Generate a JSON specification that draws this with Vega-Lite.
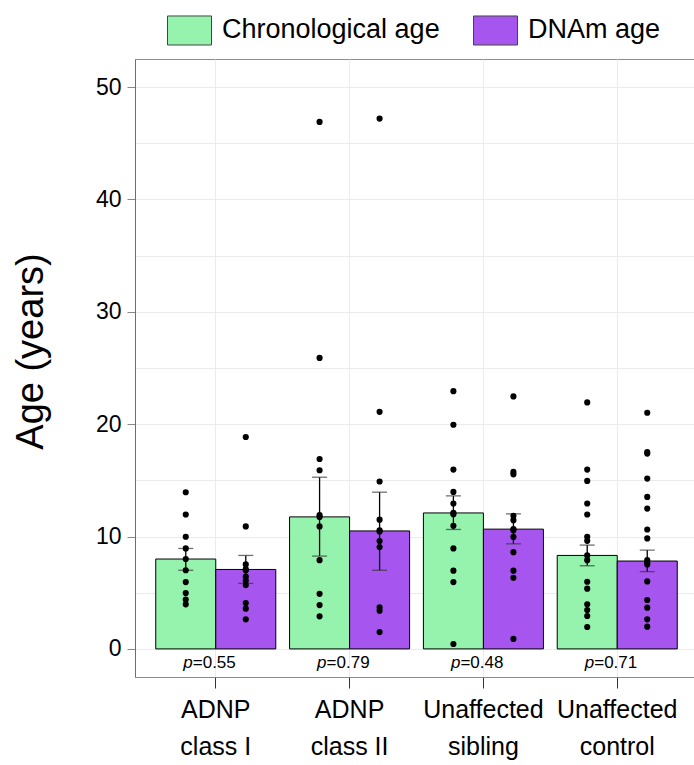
{
  "$schema": "https://vega.github.io/schema/vega-lite/v6.json",
  "width": 563,
  "height": 618,
  "autosize": {"type": "none"},
  "padding": {"left": 135, "top": 59, "right": 0, "bottom": 88},
  "background": "white",
  "config": {
    "font": "Liberation Sans",
    "view": {"stroke": "#8c8c8c", "strokeWidth": 1},
    "axis": {"gridColor": "#ebebeb", "gridWidth": 1, "domainColor": "#6e6e6e", "tickColor": "#555555", "labelColor": "black", "titleColor": "black"},
    "legend": {"padding": 0}
  },
  "datasets": {
    "bars": [
      {"group": "ADNP|class I", "series": "Chronological age", "mean": 8.0, "lo": 7.0, "hi": 8.94},
      {"group": "ADNP|class I", "series": "DNAm age", "mean": 7.07, "lo": 5.83, "hi": 8.32},
      {"group": "ADNP|class II", "series": "Chronological age", "mean": 11.75, "lo": 8.26, "hi": 15.28},
      {"group": "ADNP|class II", "series": "DNAm age", "mean": 10.5, "lo": 7.0, "hi": 13.95},
      {"group": "Unaffected|sibling", "series": "Chronological age", "mean": 12.1, "lo": 10.63, "hi": 13.62},
      {"group": "Unaffected|sibling", "series": "DNAm age", "mean": 10.66, "lo": 9.35, "hi": 12.02},
      {"group": "Unaffected|control", "series": "Chronological age", "mean": 8.32, "lo": 7.4, "hi": 9.24},
      {"group": "Unaffected|control", "series": "DNAm age", "mean": 7.82, "lo": 6.87, "hi": 8.8}
    ],
    "pvals": [
      {"group": "ADNP|class I", "p": "=0.55"},
      {"group": "ADNP|class II", "p": "=0.79"},
      {"group": "Unaffected|sibling", "p": "=0.48"},
      {"group": "Unaffected|control", "p": "=0.71"}
    ],
    "points": [
      {"group": "ADNP|class I", "series": "Chronological age", "age": 13.94},
      {"group": "ADNP|class I", "series": "Chronological age", "age": 11.96},
      {"group": "ADNP|class I", "series": "Chronological age", "age": 9.98},
      {"group": "ADNP|class I", "series": "Chronological age", "age": 8.94},
      {"group": "ADNP|class I", "series": "Chronological age", "age": 8.0},
      {"group": "ADNP|class I", "series": "Chronological age", "age": 7.0},
      {"group": "ADNP|class I", "series": "Chronological age", "age": 5.95},
      {"group": "ADNP|class I", "series": "Chronological age", "age": 4.97},
      {"group": "ADNP|class I", "series": "Chronological age", "age": 4.4},
      {"group": "ADNP|class I", "series": "Chronological age", "age": 3.97},
      {"group": "ADNP|class I", "series": "DNAm age", "age": 18.86},
      {"group": "ADNP|class I", "series": "DNAm age", "age": 10.9},
      {"group": "ADNP|class I", "series": "DNAm age", "age": 7.52},
      {"group": "ADNP|class I", "series": "DNAm age", "age": 7.1},
      {"group": "ADNP|class I", "series": "DNAm age", "age": 7.0},
      {"group": "ADNP|class I", "series": "DNAm age", "age": 6.43},
      {"group": "ADNP|class I", "series": "DNAm age", "age": 6.07},
      {"group": "ADNP|class I", "series": "DNAm age", "age": 5.68},
      {"group": "ADNP|class I", "series": "DNAm age", "age": 4.08},
      {"group": "ADNP|class I", "series": "DNAm age", "age": 3.58},
      {"group": "ADNP|class I", "series": "DNAm age", "age": 2.63},
      {"group": "ADNP|class II", "series": "Chronological age", "age": 46.9},
      {"group": "ADNP|class II", "series": "Chronological age", "age": 25.9},
      {"group": "ADNP|class II", "series": "Chronological age", "age": 16.9},
      {"group": "ADNP|class II", "series": "Chronological age", "age": 15.9},
      {"group": "ADNP|class II", "series": "Chronological age", "age": 11.9},
      {"group": "ADNP|class II", "series": "Chronological age", "age": 11.75},
      {"group": "ADNP|class II", "series": "Chronological age", "age": 10.9},
      {"group": "ADNP|class II", "series": "Chronological age", "age": 7.9},
      {"group": "ADNP|class II", "series": "Chronological age", "age": 4.9},
      {"group": "ADNP|class II", "series": "Chronological age", "age": 3.9},
      {"group": "ADNP|class II", "series": "Chronological age", "age": 2.9},
      {"group": "ADNP|class II", "series": "DNAm age", "age": 47.2},
      {"group": "ADNP|class II", "series": "DNAm age", "age": 21.1},
      {"group": "ADNP|class II", "series": "DNAm age", "age": 14.9},
      {"group": "ADNP|class II", "series": "DNAm age", "age": 11.5},
      {"group": "ADNP|class II", "series": "DNAm age", "age": 10.55},
      {"group": "ADNP|class II", "series": "DNAm age", "age": 10.45},
      {"group": "ADNP|class II", "series": "DNAm age", "age": 9.6},
      {"group": "ADNP|class II", "series": "DNAm age", "age": 9.06},
      {"group": "ADNP|class II", "series": "DNAm age", "age": 3.7},
      {"group": "ADNP|class II", "series": "DNAm age", "age": 3.4},
      {"group": "ADNP|class II", "series": "DNAm age", "age": 1.5},
      {"group": "Unaffected|sibling", "series": "Chronological age", "age": 22.94},
      {"group": "Unaffected|sibling", "series": "Chronological age", "age": 19.95},
      {"group": "Unaffected|sibling", "series": "Chronological age", "age": 15.96},
      {"group": "Unaffected|sibling", "series": "Chronological age", "age": 13.97},
      {"group": "Unaffected|sibling", "series": "Chronological age", "age": 12.94},
      {"group": "Unaffected|sibling", "series": "Chronological age", "age": 12.1},
      {"group": "Unaffected|sibling", "series": "Chronological age", "age": 11.99},
      {"group": "Unaffected|sibling", "series": "Chronological age", "age": 10.95},
      {"group": "Unaffected|sibling", "series": "Chronological age", "age": 8.94},
      {"group": "Unaffected|sibling", "series": "Chronological age", "age": 6.96},
      {"group": "Unaffected|sibling", "series": "Chronological age", "age": 5.95},
      {"group": "Unaffected|sibling", "series": "Chronological age", "age": 0.44},
      {"group": "Unaffected|sibling", "series": "DNAm age", "age": 22.47},
      {"group": "Unaffected|sibling", "series": "DNAm age", "age": 15.75},
      {"group": "Unaffected|sibling", "series": "DNAm age", "age": 15.54},
      {"group": "Unaffected|sibling", "series": "DNAm age", "age": 11.84},
      {"group": "Unaffected|sibling", "series": "DNAm age", "age": 11.46},
      {"group": "Unaffected|sibling", "series": "DNAm age", "age": 10.66},
      {"group": "Unaffected|sibling", "series": "DNAm age", "age": 10.57},
      {"group": "Unaffected|sibling", "series": "DNAm age", "age": 9.97},
      {"group": "Unaffected|sibling", "series": "DNAm age", "age": 8.61},
      {"group": "Unaffected|sibling", "series": "DNAm age", "age": 6.96},
      {"group": "Unaffected|sibling", "series": "DNAm age", "age": 6.33},
      {"group": "Unaffected|sibling", "series": "DNAm age", "age": 0.89},
      {"group": "Unaffected|control", "series": "Chronological age", "age": 21.94},
      {"group": "Unaffected|control", "series": "Chronological age", "age": 15.96},
      {"group": "Unaffected|control", "series": "Chronological age", "age": 14.95},
      {"group": "Unaffected|control", "series": "Chronological age", "age": 12.94},
      {"group": "Unaffected|control", "series": "Chronological age", "age": 11.96},
      {"group": "Unaffected|control", "series": "Chronological age", "age": 9.98},
      {"group": "Unaffected|control", "series": "Chronological age", "age": 9.62},
      {"group": "Unaffected|control", "series": "Chronological age", "age": 8.32},
      {"group": "Unaffected|control", "series": "Chronological age", "age": 7.9},
      {"group": "Unaffected|control", "series": "Chronological age", "age": 5.98},
      {"group": "Unaffected|control", "series": "Chronological age", "age": 5.36},
      {"group": "Unaffected|control", "series": "Chronological age", "age": 3.97},
      {"group": "Unaffected|control", "series": "Chronological age", "age": 3.46},
      {"group": "Unaffected|control", "series": "Chronological age", "age": 2.93},
      {"group": "Unaffected|control", "series": "Chronological age", "age": 1.95},
      {"group": "Unaffected|control", "series": "DNAm age", "age": 21.02},
      {"group": "Unaffected|control", "series": "DNAm age", "age": 17.52},
      {"group": "Unaffected|control", "series": "DNAm age", "age": 17.38},
      {"group": "Unaffected|control", "series": "DNAm age", "age": 15.16},
      {"group": "Unaffected|control", "series": "DNAm age", "age": 13.53},
      {"group": "Unaffected|control", "series": "DNAm age", "age": 12.49},
      {"group": "Unaffected|control", "series": "DNAm age", "age": 10.63},
      {"group": "Unaffected|control", "series": "DNAm age", "age": 9.83},
      {"group": "Unaffected|control", "series": "DNAm age", "age": 7.9},
      {"group": "Unaffected|control", "series": "DNAm age", "age": 7.67},
      {"group": "Unaffected|control", "series": "DNAm age", "age": 7.52},
      {"group": "Unaffected|control", "series": "DNAm age", "age": 6.01},
      {"group": "Unaffected|control", "series": "DNAm age", "age": 4.35},
      {"group": "Unaffected|control", "series": "DNAm age", "age": 3.67},
      {"group": "Unaffected|control", "series": "DNAm age", "age": 2.63},
      {"group": "Unaffected|control", "series": "DNAm age", "age": 1.98}
    ]
  },
  "layer": [
    {
      "data": {"name": "bars"},
      "mark": {"type": "bar", "stroke": "black", "strokeWidth": 1},
      "encoding": {
        "x": {
          "field": "group", "type": "nominal", "title": null,
          "sort": ["ADNP|class I", "ADNP|class II", "Unaffected|sibling", "Unaffected|control"],
          "scale": {"paddingInner": 0.103, "paddingOuter": 0.155},
          "axis": {
            "title": null, "bandPosition": 0.5, "grid": true, "labelAngle": 0,
            "labelExpr": "split(datum.label, '|')",
            "labelFontSize": 25, "labelLineHeight": 37, "labelPadding": 9,
            "tickSize": 11, "tickColor": "#333333", "domain": false
          }
        },
        "xOffset": {"field": "series", "type": "nominal", "sort": ["Chronological age", "DNAm age"]},
        "y": {
          "field": "mean", "type": "quantitative", "title": "Age (years)",
          "scale": {"domain": [-2.5, 52.5], "nice": false, "zero": false},
          "axis": {
            "title": "Age (years)", "titleFontSize": 38, "titleFontWeight": "normal",
            "titleAngle": -90, "titleX": -93, "titleY": 292, "titleAlign": "center", "titleBaseline": "alphabetic",
            "values": [0, 5, 10, 15, 20, 25, 30, 35, 40, 45, 50],
            "labelExpr": "datum.value % 10 == 0 ? datum.label : ''",
            "tickOpacity": {"condition": {"test": "datum.value % 10 == 0", "value": 1}, "value": 0},
            "labelFontSize": 23, "labelPadding": 6, "tickSize": 8, "tickColor": "#888888",
            "grid": true
          }
        },
        "color": {
          "field": "series", "type": "nominal",
          "scale": {"domain": ["Chronological age", "DNAm age"], "range": ["#96F3AD", "#A656EE"]},
          "legend": {
            "title": null, "orient": "none", "legendX": 32, "legendY": -51.5, "direction": "horizontal",
            "symbolType": "M-1,-0.66H1V0.66H-1Z", "symbolSize": 1936,
            "symbolStrokeColor": "#444444", "symbolStrokeWidth": 1, "symbolOpacity": 1,
            "labelFontSize": 27, "labelOffset": 10, "columnPadding": 31, "labelColor": "black", "labelLimit": 0
          }
        }
      }
    },
    {
      "data": {"name": "bars"},
      "mark": {"type": "rule", "color": "black", "strokeWidth": 1.3},
      "encoding": {
        "x": {"field": "group", "type": "nominal", "title": null, "sort": ["ADNP|class I", "ADNP|class II", "Unaffected|sibling", "Unaffected|control"]},
        "xOffset": {"field": "series", "type": "nominal", "sort": ["Chronological age", "DNAm age"]},
        "y": {"field": "lo", "type": "quantitative", "title": "Age (years)"},
        "y2": {"field": "hi"}
      }
    },
    {
      "data": {"name": "bars"},
      "mark": {"type": "tick", "color": "#333333", "size": 15, "thickness": 1.3, "orient": "horizontal"},
      "encoding": {
        "x": {"field": "group", "type": "nominal", "title": null, "sort": ["ADNP|class I", "ADNP|class II", "Unaffected|sibling", "Unaffected|control"]},
        "xOffset": {"field": "series", "type": "nominal", "sort": ["Chronological age", "DNAm age"]},
        "y": {"field": "lo", "type": "quantitative", "title": "Age (years)"}
      }
    },
    {
      "data": {"name": "bars"},
      "mark": {"type": "tick", "color": "#333333", "size": 15, "thickness": 1.3, "orient": "horizontal"},
      "encoding": {
        "x": {"field": "group", "type": "nominal", "title": null, "sort": ["ADNP|class I", "ADNP|class II", "Unaffected|sibling", "Unaffected|control"]},
        "xOffset": {"field": "series", "type": "nominal", "sort": ["Chronological age", "DNAm age"]},
        "y": {"field": "hi", "type": "quantitative", "title": "Age (years)"}
      }
    },
    {
      "data": {"name": "points"},
      "mark": {"type": "circle", "color": "black", "size": 38, "opacity": 1},
      "encoding": {
        "x": {"field": "group", "type": "nominal", "title": null, "sort": ["ADNP|class I", "ADNP|class II", "Unaffected|sibling", "Unaffected|control"]},
        "xOffset": {"field": "series", "type": "nominal", "sort": ["Chronological age", "DNAm age"]},
        "y": {"field": "age", "type": "quantitative", "title": "Age (years)"}
      }
    },
    {
      "data": {"name": "pvals"},
      "mark": {"type": "text", "text": "p", "fontStyle": "italic", "fontSize": 17, "align": "right", "baseline": "alphabetic", "dx": -23, "color": "black"},
      "encoding": {
        "x": {"field": "group", "type": "nominal", "title": null, "sort": ["ADNP|class I", "ADNP|class II", "Unaffected|sibling", "Unaffected|control"]},
        "y": {"datum": -1.7, "type": "quantitative", "title": "Age (years)"}
      }
    },
    {
      "data": {"name": "pvals"},
      "mark": {"type": "text", "fontSize": 17, "align": "left", "baseline": "alphabetic", "dx": -23, "color": "black"},
      "encoding": {
        "x": {"field": "group", "type": "nominal", "title": null, "sort": ["ADNP|class I", "ADNP|class II", "Unaffected|sibling", "Unaffected|control"]},
        "y": {"datum": -1.7, "type": "quantitative", "title": "Age (years)"},
        "text": {"field": "p"}
      }
    }
  ]
}
